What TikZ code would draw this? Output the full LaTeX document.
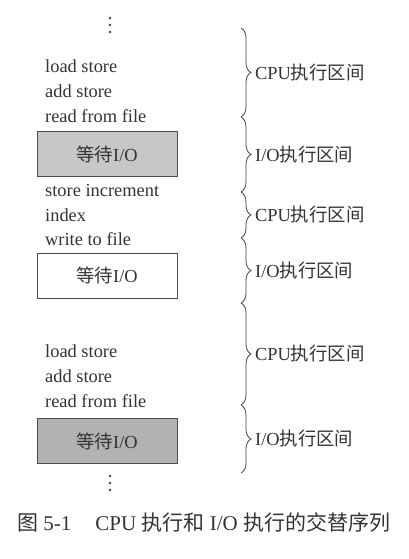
\documentclass[tikz,border=0pt]{standalone}
\usepackage{fontspec}
\setmainfont{Liberation Serif}
\newfontfamily\cjk{Noto Sans CJK SC}
\usetikzlibrary{decorations.pathreplacing}
\begin{document}
\begin{tikzpicture}[x=1pt,y=-1pt,
  txt/.style={anchor=base west,inner sep=0pt,text=black!80,font=\fontsize{18.4}{20}\selectfont},
  lbl/.style={anchor=west,inner sep=0pt,text=black!80,font=\fontsize{18.4}{20}\selectfont},
  iobox/.style={draw=black!70,line width=0.9pt,minimum width=140pt,minimum height=45pt,inner sep=0pt,text=black!80,font=\fontsize{18.4}{20}\selectfont},
  brc/.style={decorate,decoration={brace,amplitude=10pt},draw=black!75,line width=0.8pt},
  vdot/.style={circle,fill=black!75,inner sep=0pt,minimum size=2.6pt}]
\useasboundingbox (0,0) rectangle (409,559);
% top dots
\node[vdot] (t1) at (110,18) {};
\node[vdot] (t2) at (110,25) {};
\node[vdot] (t3) at (110,32) {};
% blocks
\node[txt] (a1) at (45,73) {load store};
\node[txt] (a2) at (45,98) {add store};
\node[txt] (a3) at (45,123) {read from file};
\node[iobox,fill=black!22] (b1) at (107,154) {{\cjk 等待}I/O};
\node[txt] (a4) at (45,196) {store increment};
\node[txt] (a5) at (45,221) {index};
\node[txt] (a6) at (45,245) {write to file};
\node[iobox,fill=white] (b2) at (107,275.5) {{\cjk 等待}I/O};
\node[txt] (a7) at (45,357) {load store};
\node[txt] (a8) at (45,382) {add store};
\node[txt] (a9) at (45,407) {read from file};
\node[iobox,fill=black!30] (b3) at (107,441) {{\cjk 等待}I/O};
% bottom dots
\node[vdot] (d1) at (110,476) {};
\node[vdot] (d2) at (110,483) {};
\node[vdot] (d3) at (110,490) {};
% brace points
\coordinate (p0) at (241,28);
\coordinate (p1) at (241,117);
\coordinate (p2) at (241,192);
\coordinate (p3) at (241,238);
\coordinate (p4) at (241,303);
\coordinate (p5) at (241,405);
\coordinate (p6) at (241,473);
\draw[brc] (p0) -- (p1);
\draw[brc] (p1) -- (p2);
\draw[brc] (p2) -- (p3);
\draw[brc] (p3) -- (p4);
\draw[brc] (p4) -- (p5);
\draw[brc] (p5) -- (p6);
\node[lbl] (l1) at (255,72.5) {CPU{\cjk 执行区间}};
\node[lbl] (l2) at (255,154.5) {I/O{\cjk 执行区间}};
\node[lbl] (l3) at (255,215) {CPU{\cjk 执行区间}};
\node[lbl] (l4) at (255,270.5) {I/O{\cjk 执行区间}};
\node[lbl] (l5) at (255,354) {CPU{\cjk 执行区间}};
\node[lbl] (l6) at (255,439) {I/O{\cjk 执行区间}};
% caption
\node[anchor=base west,inner sep=0pt,text=black!80,font=\fontsize{21}{23}\selectfont] (cap) at (17,530)
  {{\cjk 图} 5-1\hspace{24pt}CPU {\cjk 执行和} I/O {\cjk 执行的交替序列}};
\end{tikzpicture}
\end{document}
